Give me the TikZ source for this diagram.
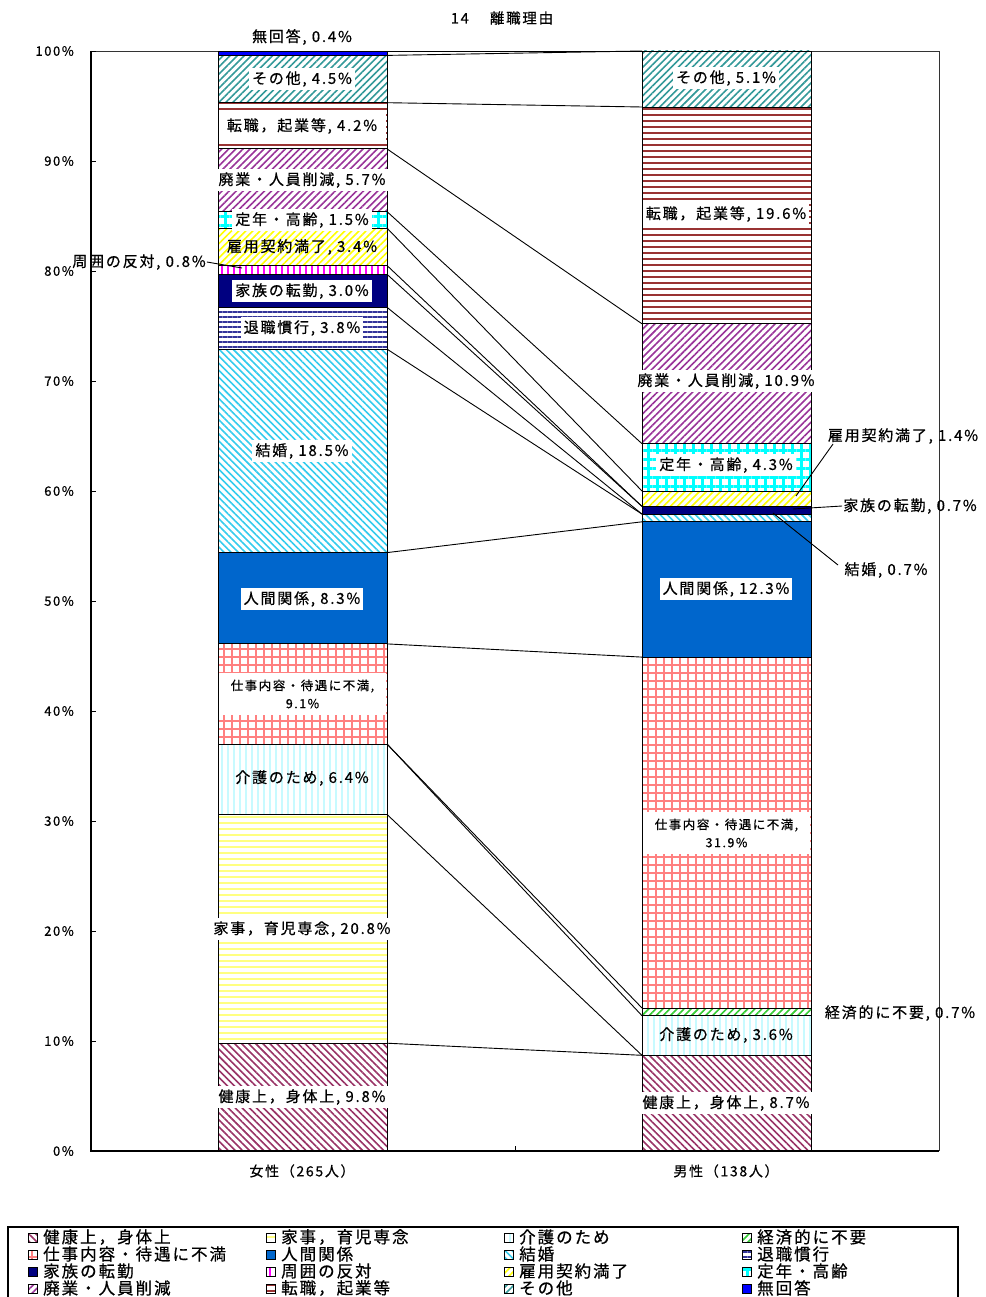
\documentclass[tikz,border=0pt]{standalone}
\usepackage{fontspec}
\setmainfont{Noto Sans CJK JP}[LetterSpace=12, FakeBold=0.6]
\usetikzlibrary{patterns.meta}
\definecolor{c1}{HTML}{993366}
\definecolor{c2}{HTML}{FFFF80}
\definecolor{c3}{HTML}{C8FAFF}
\definecolor{c4}{HTML}{33CC33}
\definecolor{c5}{HTML}{FF8080}
\definecolor{c6}{HTML}{0066CC}
\definecolor{c7}{HTML}{33CCEE}
\definecolor{c8}{HTML}{333399}
\definecolor{c9}{HTML}{000080}
\definecolor{c10}{HTML}{FF00FF}
\definecolor{c11}{HTML}{FFFF00}
\definecolor{c12}{HTML}{00FFFF}
\definecolor{c13}{HTML}{993399}
\definecolor{c14}{HTML}{993333}
\definecolor{c15}{HTML}{339999}
\definecolor{c16}{HTML}{0000FF}
\tikzset{
  seg/.style={draw=black, line width=0.9pt},
  p1/.style={preaction={fill=white}, pattern={Lines[angle=-45,distance=5pt,line width=1.6pt]}, pattern color=c1},
  p2/.style={preaction={fill=white}, pattern={Lines[angle=0,distance=6pt,line width=1.6pt]}, pattern color=c2},
  p3/.style={preaction={fill=white}, pattern={Lines[angle=90,distance=6pt,line width=1.3pt]}, pattern color=c3},
  p4/.style={preaction={fill=white}, pattern={Lines[angle=45,distance=5pt,line width=1.6pt]}, pattern color=c4},
  p5/.style={preaction={fill=white}, pattern={Hatch[angle=0,distance=8pt,line width=1.8pt]}, pattern color=c5},
  p6/.style={fill=c6},
  p7/.style={preaction={fill=white}, pattern={Lines[angle=-45,distance=5pt,line width=1.6pt]}, pattern color=c7},
  p8/.style={preaction={fill=white}, pattern={Lines[angle=0,distance=5pt,line width=1.5pt]}, pattern color=c8},
  p9/.style={fill=c9},
  p10/.style={preaction={fill=white}, pattern={Lines[angle=90,distance=6pt,line width=2.2pt]}, pattern color=c10},
  p11/.style={preaction={fill=white}, pattern={Lines[angle=45,distance=5pt,line width=1.6pt]}, pattern color=c11},
  p12/.style={preaction={fill=white}, pattern={Hatch[angle=0,distance=9pt,line width=3pt]}, pattern color=c12},
  p13/.style={preaction={fill=white}, pattern={Lines[angle=45,distance=5pt,line width=1.6pt]}, pattern color=c13},
  p14/.style={preaction={fill=white}, pattern={Lines[angle=0,distance=6pt,line width=1.5pt]}, pattern color=c14},
  p15/.style={preaction={fill=white}, pattern={Lines[angle=45,distance=5pt,line width=1.6pt]}, pattern color=c15},
  p16/.style={fill=c16},
  lab/.style={fill=white, inner xsep=3pt, inner ysep=3pt, font=\fontsize{15}{17}\selectfont},
  labn/.style={inner sep=1pt, font=\fontsize{15}{17}\selectfont},
  labtwo/.style={fill=white, align=center, minimum width=167pt, minimum height=42pt, inner sep=0pt, font=\fontsize{12.5}{18}\selectfont},
  serline/.style={draw=black, line width=0.9pt},
  leader/.style={draw=black, line width=0.9pt},
  axl/.style={anchor=east, inner sep=0pt, font=\fontsize{13}{15}\selectfont},
  leg/.style={anchor=west, inner sep=0pt, font=\fontsize{16.5}{18}\selectfont},
  legicon/.style={draw=black, line width=0.6pt},
}
\begin{document}
\begin{tikzpicture}[x=1pt,y=-1pt]
\useasboundingbox[fill=white] (0,0) rectangle (985,1297);

% title
\node[font=\fontsize{14.5}{16}\selectfont, inner sep=0pt] (title) at (502,18) {14　 離職理由};

% plot frame
\draw[line width=0.9pt, black!80] (91,51) -- (939,51) -- (939,1151);

% female bar
\path[seg,p1] (218,1151) rectangle (387,1043.2);
\path[seg,p2] (218,1043.2) rectangle (387,814.4);
\path[seg,p3] (218,814.4) rectangle (387,744);
\path[seg,p5] (218,744) rectangle (387,643.9);
\path[seg,p6] (218,643.9) rectangle (387,552.6);
\path[seg,p7] (218,552.6) rectangle (387,349.1);
\path[seg,p8] (218,349.1) rectangle (387,307.3);
\path[seg,p9] (218,307.3) rectangle (387,274.3);
\path[seg,p10] (218,274.3) rectangle (387,265.5);
\path[seg,p11] (218,265.5) rectangle (387,228.1);
\path[seg,p12] (218,228.1) rectangle (387,211.6);
\path[seg,p13] (218,211.6) rectangle (387,148.9);
\path[seg,p14] (218,148.9) rectangle (387,102.7);
\path[seg,p15] (218,102.7) rectangle (387,55.4);
\path[seg,p16] (218,55.4) rectangle (387,51);

% male bar
\path[seg,p1] (642,1151) rectangle (811,1055.3);
\path[seg,p3] (642,1055.3) rectangle (811,1015.7);
\path[seg,p4] (642,1015.7) rectangle (811,1008);
\path[seg,p5] (642,1008) rectangle (811,657.1);
\path[seg,p6] (642,657.1) rectangle (811,521.8);
\path[seg,p7] (642,521.8) rectangle (811,514.1);
\path[seg,p9] (642,514.1) rectangle (811,506.4);
\path[seg,p11] (642,506.4) rectangle (811,491);
\path[seg,p12] (642,491) rectangle (811,443.7);
\path[seg,p13] (642,443.7) rectangle (811,323.8);
\path[seg,p14] (642,323.8) rectangle (811,107);
\path[seg,p15] (642,107) rectangle (811,51);

% series line end points
\coordinate (f1) at (387,1043.2);  \coordinate (m1) at (642,1055.3);
\coordinate (f2) at (387,814.4);   \coordinate (m2) at (642,1055.3);
\coordinate (f3) at (387,744);     \coordinate (m3) at (642,1015.7);
\coordinate (f4) at (387,744);     \coordinate (m4) at (642,1008);
\coordinate (f5) at (387,643.9);   \coordinate (m5) at (642,657.1);
\coordinate (f6) at (387,552.6);   \coordinate (m6) at (642,521.8);
\coordinate (f7) at (387,349.1);   \coordinate (m7) at (642,514.1);
\coordinate (f8) at (387,307.3);   \coordinate (m8) at (642,514.1);
\coordinate (f9) at (387,274.3);   \coordinate (m9) at (642,506.4);
\coordinate (f10) at (387,265.5);  \coordinate (m10) at (642,506.4);
\coordinate (f11) at (387,228.1);  \coordinate (m11) at (642,491);
\coordinate (f12) at (387,211.6);  \coordinate (m12) at (642,443.7);
\coordinate (f13) at (387,148.9);  \coordinate (m13) at (642,323.8);
\coordinate (f14) at (387,102.7);  \coordinate (m14) at (642,107);
\coordinate (f15) at (387,55.4);   \coordinate (m15) at (642,51);
\coordinate (f16) at (387,51);     \coordinate (m16) at (642,51);
\foreach \k in {1,...,16} { \draw[serline] (f\k) -- (m\k); }

% axes
\draw[line width=1.6pt] (91,51) -- (91,1151) -- (939,1151);
\foreach \v in {0,...,10} {
  \pgfmathsetmacro\yy{1151-110*\v}
  \pgfmathtruncatemacro\pc{10*\v}
  \draw[line width=0.9pt] (91,\yy) -- (96,\yy);
  \node[axl] (ax\v) at (74,\yy) {\pc\%};
}
\draw[line width=0.9pt] (515,1151) -- (515,1146);
\node[font=\fontsize{14}{16}\selectfont, inner sep=0pt] (catf) at (302,1171) {女性（265人）};
\node[font=\fontsize{14}{16}\selectfont, inner sep=0pt] (catm) at (726,1171) {男性（138人）};

% female labels
\node[labn] (lf16) at (302,37) {無回答, 0.4\%};
\node[lab] (lf15) at (302,79) {その他, 4.5\%};
\node[lab, minimum width=167pt, minimum height=28pt] (lf14) at (302,126) {転職，起業等, 4.2\%};
\node[lab] (lf13) at (302,180) {廃業・人員削減, 5.7\%};
\node[lab] (lf12) at (302,220) {定年・高齢, 1.5\%};
\node[labn] (lf11) at (302,247) {雇用契約満了, 3.4\%};
\node[labn] (lf10) at (139,262) {周囲の反対, 0.8\%};
\coordinate (lf10t) at (242,268);
\draw[leader] (lf10.east) -- (lf10t);
\node[lab] (lf9) at (302,291) {家族の転勤, 3.0\%};
\node[lab] (lf8) at (302,328) {退職慣行, 3.8\%};
\node[lab] (lf7) at (302,451) {結婚, 18.5\%};
\node[lab] (lf6) at (302,599) {人間関係, 8.3\%};
\node[labtwo] (lf5) at (302.5,694) {仕事内容・待遇に不満,\\9.1\%};
\node[labn] (lf3) at (302,778) {介護のため, 6.4\%};
\node[lab] (lf2) at (302,929) {家事，育児専念, 20.8\%};
\node[lab] (lf1) at (302,1097) {健康上，身体上, 9.8\%};

% male labels
\node[lab] (lm15) at (726,78) {その他, 5.1\%};
\node[lab] (lm14) at (726,214) {転職，起業等, 19.6\%};
\node[lab] (lm13) at (726,381) {廃業・人員削減, 10.9\%};
\node[lab] (lm12) at (726,465) {定年・高齢, 4.3\%};
\node[labn] (lm11) at (903,436) {雇用契約満了, 1.4\%};
\coordinate (lm11t) at (796,496);
\draw[leader] (lm11t) -- (833,444);
\node[labn] (lm9) at (910,506) {家族の転勤, 0.7\%};
\coordinate (lm9t) at (793,509);
\draw[leader] (lm9t) -- (lm9.west);
\node[labn] (lm7) at (886,570) {結婚, 0.7\%};
\coordinate (lm7t) at (773,513);
\draw[leader] (lm7t) -- (838,565);
\node[lab] (lm6) at (726,589) {人間関係, 12.3\%};
\node[labtwo] (lm5) at (726.5,833) {仕事内容・待遇に不満,\\31.9\%};
\node[labn] (lm4) at (900,1013) {経済的に不要, 0.7\%};
\node[labn] (lm3) at (726,1035) {介護のため, 3.6\%};
\node[lab] (lm1) at (726,1103) {健康上，身体上, 8.7\%};

% legend
\draw[line width=1.2pt] (8,1297) -- (8,1227) -- (958,1227) -- (958,1297);
\path[legicon,p1] (28,1233) rectangle (37,1242);   \node[leg] (g1) at (43,1237) {健康上，身体上};
\path[legicon,p2] (266,1233) rectangle (275,1242); \node[leg] (g2) at (281,1237) {家事，育児専念};
\path[legicon,p3] (504,1233) rectangle (513,1242); \node[leg] (g3) at (519,1237) {介護のため};
\path[legicon,p4] (742,1233) rectangle (751,1242); \node[leg] (g4) at (757,1237) {経済的に不要};
\path[legicon,p5] (28,1250) rectangle (37,1259);   \node[leg] (g5) at (43,1254) {仕事内容・待遇に不満};
\path[legicon,p6] (266,1250) rectangle (275,1259); \node[leg] (g6) at (281,1254) {人間関係};
\path[legicon,p7] (504,1250) rectangle (513,1259); \node[leg] (g7) at (519,1254) {結婚};
\path[legicon,p8] (742,1250) rectangle (751,1259); \node[leg] (g8) at (757,1254) {退職慣行};
\path[legicon,p9] (28,1267) rectangle (37,1276);   \node[leg] (g9) at (43,1271) {家族の転勤};
\path[legicon,p10] (266,1267) rectangle (275,1276); \node[leg] (g10) at (281,1271) {周囲の反対};
\path[legicon,p11] (504,1267) rectangle (513,1276); \node[leg] (g11) at (519,1271) {雇用契約満了};
\path[legicon,p12] (742,1267) rectangle (751,1276); \node[leg] (g12) at (757,1271) {定年・高齢};
\path[legicon,p13] (28,1284) rectangle (37,1293);   \node[leg] (g13) at (43,1288) {廃業・人員削減};
\path[legicon,p14] (266,1284) rectangle (275,1293); \node[leg] (g14) at (281,1288) {転職，起業等};
\path[legicon,p15] (504,1284) rectangle (513,1293); \node[leg] (g15) at (519,1288) {その他};
\path[legicon,p16] (742,1284) rectangle (751,1293); \node[leg] (g16) at (757,1288) {無回答};
\end{tikzpicture}
\end{document}
